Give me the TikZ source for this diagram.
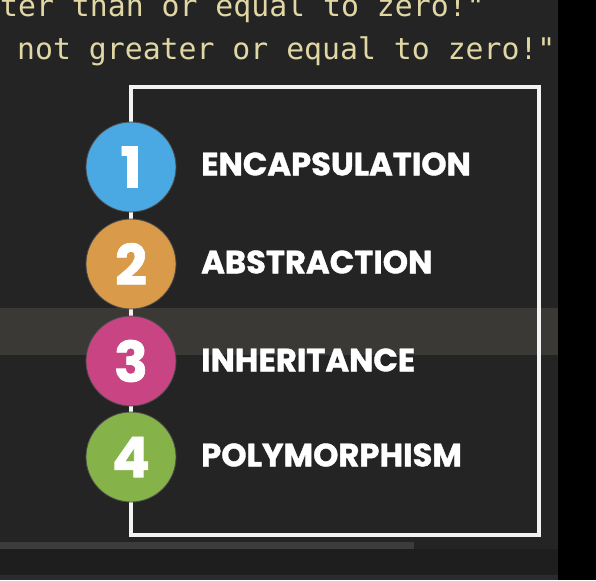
\documentclass[tikz,border=0pt]{standalone}
\usepackage{fontspec}
\setmainfont{Poppins}
\newfontfamily\heavyfont{Poppins}[FakeBold=1.2]
\newfontfamily\codefont{DejaVu Sans Mono}
\definecolor{bg}{HTML}{242424}
\definecolor{band}{HTML}{3A3935}
\definecolor{scrollc}{HTML}{3c3c3c}
\definecolor{barc}{HTML}{1e1e1e}
\definecolor{barb}{HTML}{2a2a30}
\definecolor{codec}{HTML}{E0D7A4}
\definecolor{frame}{HTML}{F2F2F2}
\definecolor{cblue}{HTML}{4AA9E2}
\definecolor{corange}{HTML}{D99A4A}
\definecolor{cpink}{HTML}{C94482}
\definecolor{cgreen}{HTML}{86B24A}
\tikzset{
  codetext/.style={anchor=base west, inner sep=0pt, text=codec, font=\codefont\fontsize{29.8}{29.8}\selectfont},
  numcircle/.style={circle, minimum size=90pt, inner sep=0pt, draw=black!70, line width=0.8pt, text=white, font=\heavyfont\fontsize{56}{56}\selectfont\bfseries},
  itemtext/.style={anchor=west, inner sep=0pt, text=white, font=\heavyfont\fontsize{32.2}{32.2}\selectfont\bfseries},
  framebox/.style={draw=frame, line width=3.5pt}
}
\begin{document}
\begin{tikzpicture}[x=1pt,y=-1pt]
\useasboundingbox (0,0) rectangle (596,580);
\fill[bg] (0,0) rectangle (596,580);
\fill[band] (0,308) rectangle (558,355);
\fill[scrollc] (0,542) rectangle (414,549);
\fill[barc] (0,549) rectangle (558,575);
\fill[barb] (0,575) rectangle (558,580);
\fill[black] (558,0) rectangle (596,580);
\node[codetext] (code1) at (0,17) {ter than or equal to zero!"};
\node[codetext] (code2) at (17,60) {not greater or equal to zero!"};
\draw[framebox] (131,87) rectangle (539,535);
\node[numcircle, fill=cblue] (c1) at (131,167) {1};
\node[numcircle, fill=corange] (c2) at (131,264) {2};
\node[numcircle, fill=cpink] (c3) at (131,361) {3};
\node[numcircle, fill=cgreen] (c4) at (131,457) {4};
\node[itemtext] (t1) at (201,164) {ENCAPSULATION};
\node[itemtext] (t2) at (201,262) {ABSTRACTION};
\node[itemtext] (t3) at (201,360) {INHERITANCE};
\node[itemtext] (t4) at (201,455) {POLYMORPHISM};
\end{tikzpicture}
\end{document}
